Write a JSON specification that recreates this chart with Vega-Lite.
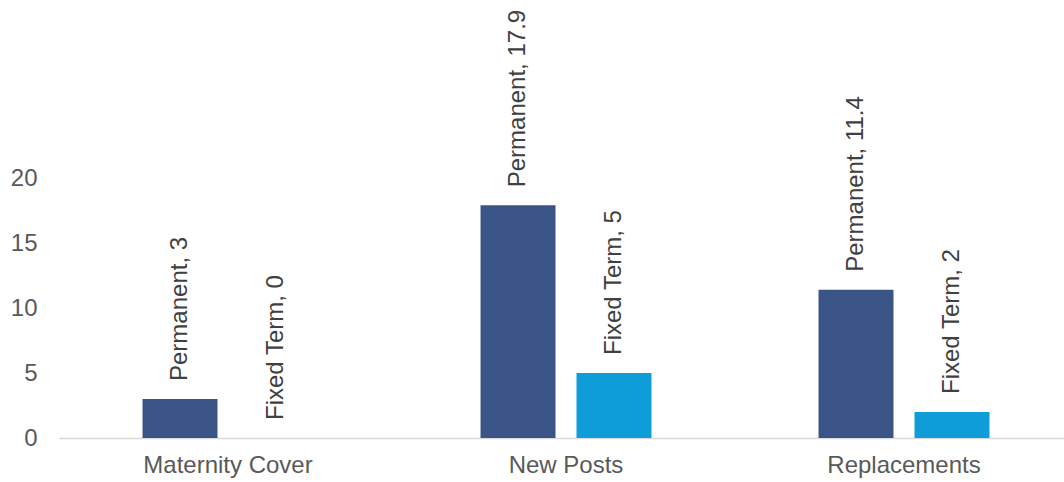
{
  "$schema": "https://vega.github.io/schema/vega-lite/v6.json",
  "width": 1005,
  "height": 260,
  "autosize": {"type": "none"},
  "padding": {"left": 59, "top": 178, "right": 0, "bottom": 44},
  "background": "white",
  "config": {
    "view": {"stroke": null},
    "font": "Liberation Sans",
    "axis": {"grid": false, "ticks": false, "labelFont": "Liberation Sans", "labelFontSize": 24, "labelColor": "#595959"}
  },
  "data": {
    "values": [
      {"category": "Maternity Cover", "type": "Permanent", "value": 3},
      {"category": "Maternity Cover", "type": "Fixed Term", "value": 0},
      {"category": "New Posts", "type": "Permanent", "value": 17.9},
      {"category": "New Posts", "type": "Fixed Term", "value": 5},
      {"category": "Replacements", "type": "Permanent", "value": 11.4},
      {"category": "Replacements", "type": "Fixed Term", "value": 2}
    ]
  },
  "transform": [{"calculate": "datum.type + ', ' + datum.value", "as": "label"}],
  "encoding": {
    "x": {
      "field": "category",
      "type": "nominal",
      "sort": null,
      "scale": {"range": [0, 1014], "paddingInner": 0, "paddingOuter": 0},
      "axis": {"title": null, "labelAngle": 0, "labelPadding": 15, "domainColor": "#D9D9D9", "domainWidth": 1.5}
    },
    "xOffset": {
      "field": "type",
      "type": "nominal",
      "sort": ["Permanent", "Fixed Term"],
      "scale": {"paddingInner": 0.219, "paddingOuter": 0.87}
    },
    "y": {
      "field": "value",
      "type": "quantitative",
      "scale": {"domain": [0, 20], "nice": false},
      "axis": {"title": null, "values": [0, 5, 10, 15, 20], "domain": false, "labelPadding": 22}
    }
  },
  "layer": [
    {
      "mark": {"type": "bar"},
      "encoding": {
        "color": {
          "field": "type",
          "type": "nominal",
          "scale": {"domain": ["Permanent", "Fixed Term"], "range": ["#3B5487", "#0F9DDA"]},
          "legend": null
        }
      }
    },
    {
      "mark": {"type": "text", "angle": -90, "align": "left", "baseline": "middle", "dx": 18, "fontSize": 24, "color": "#404040", "clip": false},
      "encoding": {"text": {"field": "label"}}
    }
  ]
}
